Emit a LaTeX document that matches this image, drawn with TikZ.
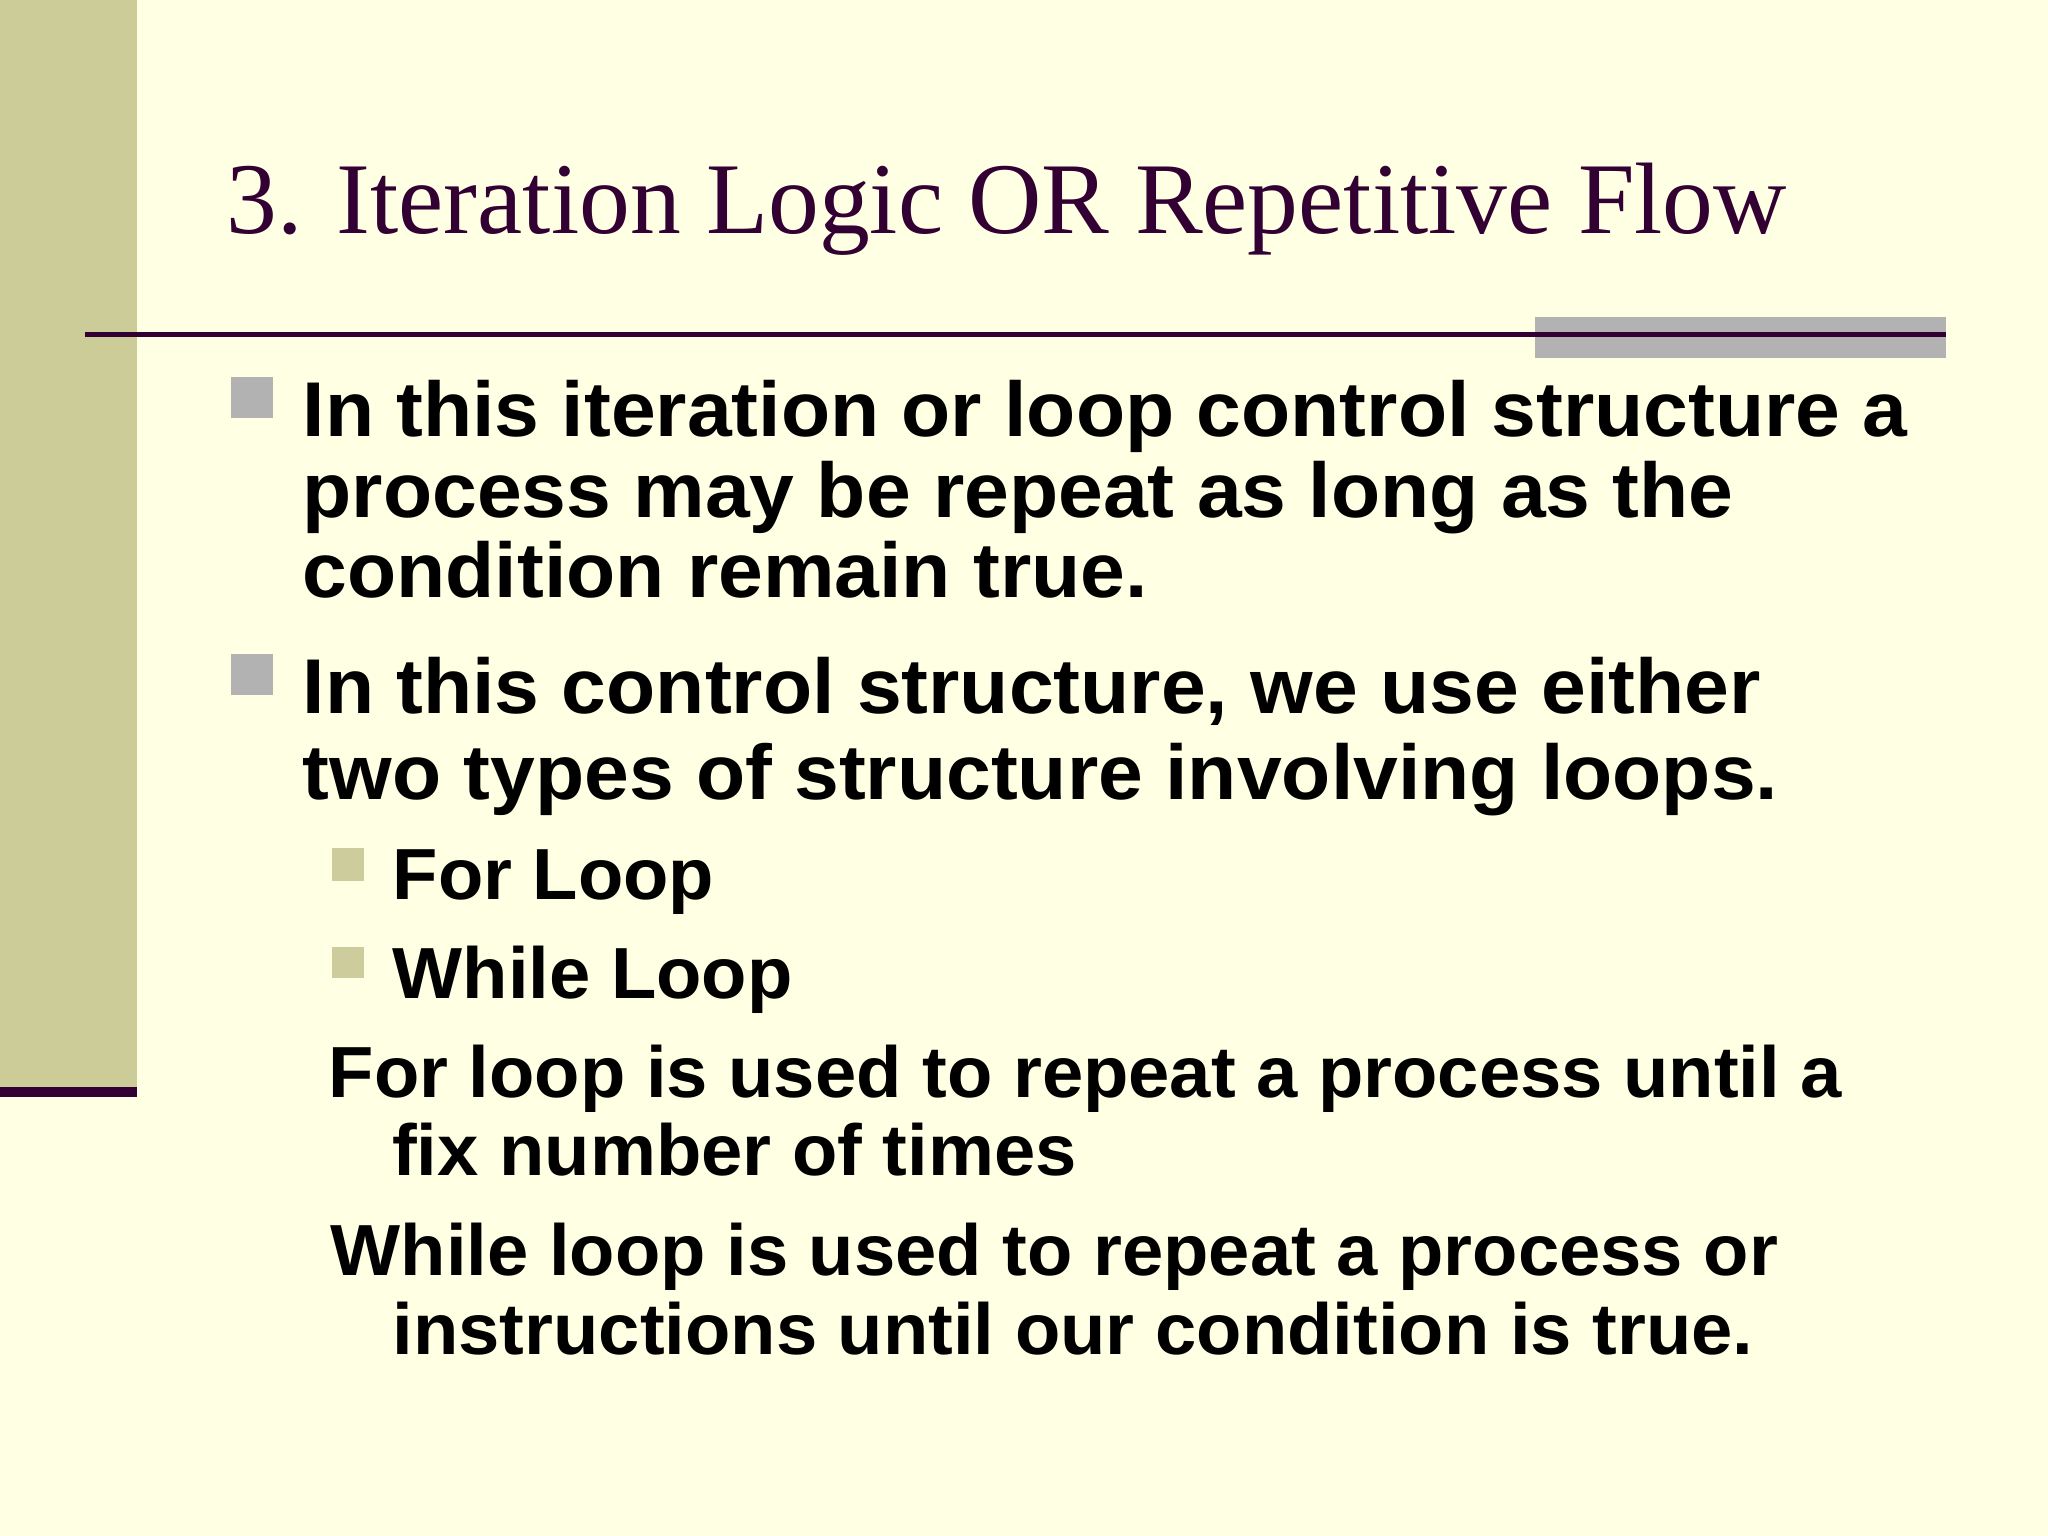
\documentclass[tikz,border=0pt]{standalone}
\usepackage{fontspec}
\setmainfont{Liberation Serif}
\newfontfamily\bodyfontA[FakeStretch=1.036]{Liberation Sans}
\newfontfamily\bodyfontB[FakeStretch=1.025]{Liberation Sans}
\definecolor{bgyellow}{HTML}{FFFFE3}
\definecolor{sidebar}{HTML}{CCCC99}
\definecolor{darkplum}{HTML}{330033}
\definecolor{bulletgray}{HTML}{B2B2B2}
\definecolor{subbullet}{HTML}{CCCC9D}
\tikzset{
  titletext/.style={anchor=base west, inner sep=0pt, text=darkplum, font=\fontsize{28.9pt}{34pt}\selectfont},
  lvlone/.style={anchor=base west, inner sep=0pt, text=black, font=\bodyfontA\bfseries\fontsize{22.1pt}{26pt}\selectfont},
  lvltwo/.style={anchor=base west, inner sep=0pt, text=black, font=\bodyfontB\bfseries\fontsize{20.6pt}{24pt}\selectfont},
  bigbullet/.style={fill=bulletgray, draw=none},
  smallbullet/.style={fill=subbullet, draw=none},
}
\begin{document}
\begin{tikzpicture}
\useasboundingbox (0,0) rectangle (20.48,-15.36);
\fill[bgyellow] (0,0) rectangle (20.48,-15.36);
% left side bar
\fill[sidebar] (0,0) rectangle (1.37,-10.87);
\fill[darkplum] (0,-10.87) rectangle (1.37,-10.97);
% title
\node[titletext] (title) at (2.26,-2.34) {3. Iteration Logic OR Repetitive Flow};
% rule with grey accent
\fill[bulletgray] (15.35,-3.17) rectangle (19.46,-3.58);
\draw[darkplum, line width=0.45mm] (0.85,-3.345) -- (19.46,-3.345);
% bullet 1
\fill[bigbullet] (2.31,-3.77) rectangle (2.73,-4.18);
\node[lvlone] (b1a) at (3.02,-4.37) {In this iteration or loop control structure a};
\node[lvlone] (b1b) at (3.02,-5.175) {process may be repeat as long as the};
\node[lvlone] (b1c) at (3.02,-5.98) {condition remain true.};
% bullet 2
\fill[bigbullet] (2.31,-6.54) rectangle (2.73,-6.95);
\node[lvlone] (b2a) at (3.02,-7.14) {In this control structure, we use either};
\node[lvlone] (b2b) at (3.02,-7.99) {two types of structure involving loops.};
% sub bullets
\fill[smallbullet] (3.32,-8.48) rectangle (3.64,-8.81);
\node[lvltwo] (s1) at (3.92,-9.00) {For Loop};
\fill[smallbullet] (3.32,-9.47) rectangle (3.64,-9.78);
\node[lvltwo] (s2) at (3.92,-9.98) {While Loop};
% explanations
\node[lvltwo] (p1a) at (3.28,-10.97) {For loop is used to repeat a process until a};
\node[lvltwo] (p1b) at (3.915,-11.75) {fix number of times};
\node[lvltwo] (p2a) at (3.30,-12.75) {While loop is used to repeat a process or};
\node[lvltwo] (p2b) at (3.92,-13.54) {instructions until our condition is true.};
\end{tikzpicture}
\end{document}
